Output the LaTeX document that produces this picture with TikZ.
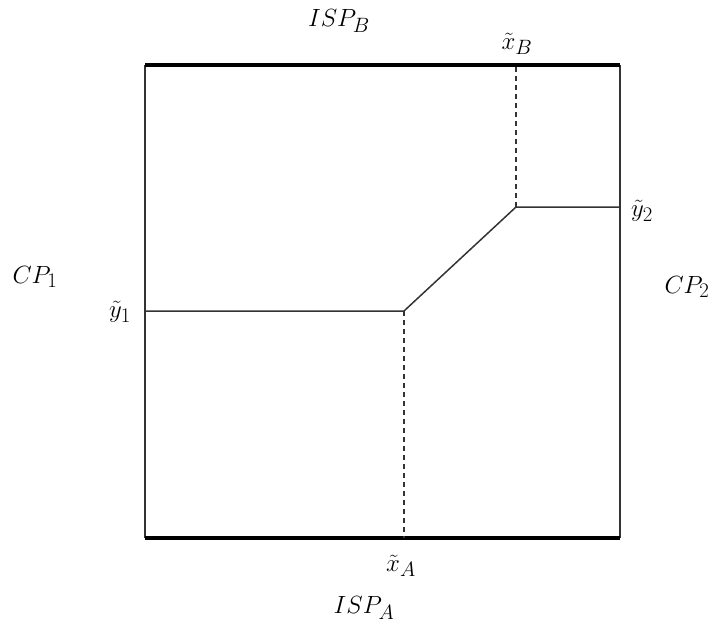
\documentclass[tikz,border=0pt]{standalone}
\begin{document}
\begin{tikzpicture}[x=1pt,y=-1pt,
  lbl/.style={inner sep=0pt, font=\fontsize{28}{30}\selectfont},
  thin line/.style={line width=1.5pt, black!80},
  thick line/.style={line width=4.5pt, black},
  dash line/.style={line width=1.5pt, black!80, dashed, dash pattern=on 5pt off 4pt}]
\useasboundingbox (0,0) rectangle (713,632);
\coordinate (TL) at (145,65);
\coordinate (TR) at (620,65);
\coordinate (BL) at (145,538);
\coordinate (BR) at (620,538);
\coordinate (Y1) at (145,311);
\coordinate (XA) at (404,311);
\coordinate (XB) at (516,207);
\coordinate (Y2) at (620,207);
\coordinate (XAb) at (404,538);
\coordinate (XBt) at (516,65);
\draw[thin line] (TL) -- (BL);
\draw[thin line] (TR) -- (BR);
\draw[thick line] (TL) -- (TR);
\draw[thick line] (BL) -- (BR);
\draw[thin line] (Y1) -- (XA) -- (XB) -- (Y2);
\draw[dash line] (XA) -- (XAb);
\draw[dash line] (XB) -- (XBt);
\node[lbl] (ispb) at (339,21) {$ISP_B$};
\node[lbl] (xb) at (517,44) {$\tilde{x}_B$};
\node[lbl] (y2) at (642,211) {$\tilde{y}_2$};
\node[lbl] (cp2) at (687,287) {$CP_2$};
\node[lbl] (cp1) at (35,277) {$CP_1$};
\node[lbl] (y1) at (120,312) {$\tilde{y}_1$};
\node[lbl] (xa) at (401,566) {$\tilde{x}_A$};
\node[lbl] (ispa) at (364,608) {$ISP_A$};
\end{tikzpicture}
\end{document}
